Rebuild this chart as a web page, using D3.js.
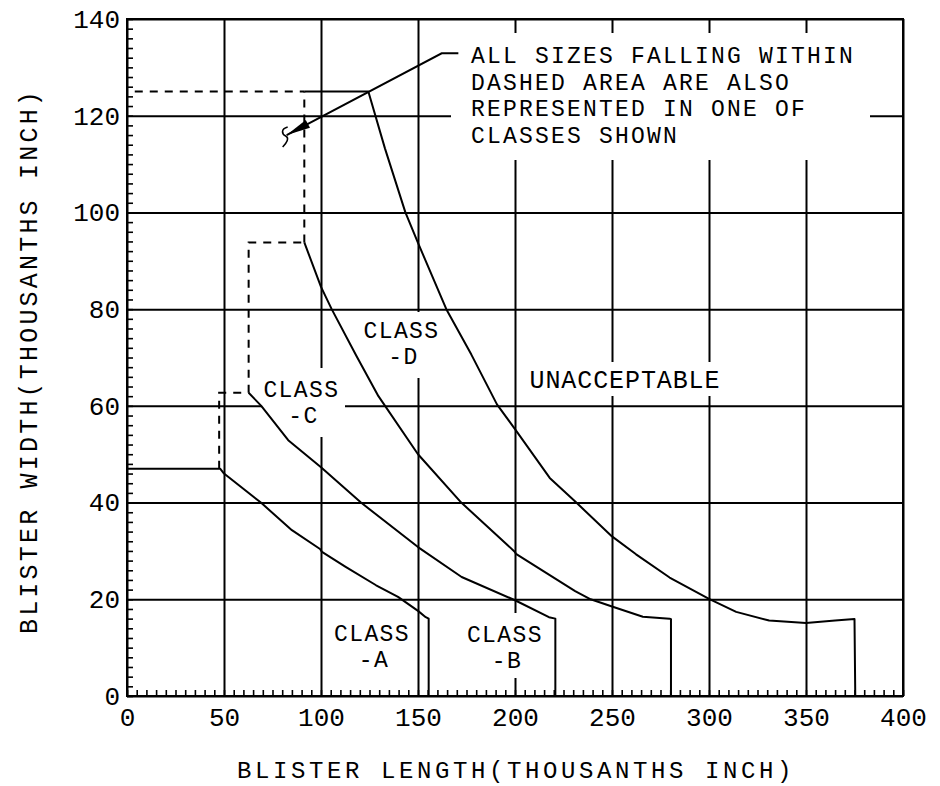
<!DOCTYPE html>
<html>
<head>
<meta charset="utf-8">
<script src="https://cdnjs.cloudflare.com/ajax/libs/d3/7.8.5/d3.min.js"></script>
<style>
  html, body { margin: 0; padding: 0; background: #fff; }
  svg { display: block; }
  text { font-family: "Liberation Mono", "DejaVu Sans Mono", monospace; fill: #000; }
</style>
</head>
<body>
<svg id="chart" width="940" height="786"></svg>
<script>
// ---------- data (thousandths of an inch) ----------
const xTickValues = [0, 50, 100, 150, 200, 250, 300, 350, 400];
const xTickLabels = ["0", "50", "100", "150", "200", "250", "300", "350", "400"];
const yTickValues = [0, 20, 40, 60, 80, 100, 120, 140];
const yTickLabels = ["0", "20", "40", "60", "80", "100", "120", "140"];

// boundary of class A (below it: CLASS-A)
const boundaryA = [[0,47],[48,47],[50,46],[69,40],[85,34.3],[99.5,30.4],[100.5,29.8],[112.7,26.7],[128.4,22.9],[139.7,20.5],[150,17.6],[154,16.3],[155.5,16],[155.5,0]];
// boundary of class B
const boundaryB = [[62.7,62.7],[69.2,60],[83.1,52.9],[100,47.3],[120.6,40],[150,30.8],[172.5,24.6],[200,19.8],[217.5,16.3],[220.8,16],[220.8,0]];
// boundary of class C
const boundaryC = [[91.4,93.8],[100,84.6],[105.5,80],[118,70.5],[129.6,62],[150,50],[172.3,40],[199.7,29.9],[200.5,29.4],[231,21.7],[239,20],[250,18.5],[265.9,16.4],[279.7,16],[280.4,15.9],[280.4,0]];
// boundary of class D (beyond: unacceptable)
const boundaryD = [[91.4,125],[124.4,125],[133,113.2],[143.5,100],[150,93.7],[164.6,80],[177.5,70.6],[190.7,60.3],[200,55.2],[217.9,45.1],[231.6,40],[250,33],[262.4,29.3],[279.7,24.5],[300,20.1],[314,17.4],[331,15.6],[350,15.1],[365,15.6],[375,15.9],[375.4,0]];

// dashed extensions ("dashed area")
const dashedAB = [[47.5,47],[47.5,62.7],[62.7,62.7]];
const dashedBC = [[62.7,62.7],[62.7,93.8],[91.4,93.8]];
const dashedCD = [[91.4,93.8],[91.4,125]];
const dashedTop = [[4,125],[91.4,125]];

const classLabels = [
  {l1:"CLASS", l2:"-A", x:126.3, y:11.4},
  {l1:"CLASS", l2:"-B", x:194.8, y:11.2},
  {l1:"CLASS", l2:"-C", x:89.9,  y:61.9},
  {l1:"CLASS", l2:"-D", x:141.5, y:74.1}
];
const unacceptableLabel = {t:"UNACCEPTABLE", x:256.7, y:63.6};

const noteLines = ["ALL SIZES FALLING WITHIN", "DASHED AREA ARE ALSO", "REPRESENTED IN ONE OF", "CLASSES SHOWN"];
const noteLeader = [[82.3,116.0],[162.2,132.9],[170.8,132.9]]; // arrow tip, bend, end

// ---------- layout ----------
const svg = d3.select("#chart");
const L = 127, R = 903, T = 19, B = 696;
const x = d3.scaleLinear().domain([0, 400]).range([L, R]);
const y = d3.scaleLinear().domain([0, 140]).range([B, T]);
const line = d3.line().x(d => x(d[0])).y(d => y(d[1]));

// grid via axes
const gx = svg.append("g").attr("transform", `translate(0,${B})`)
  .call(d3.axisBottom(x).tickValues(xTickValues).tickSize(-(B - T)).tickFormat(""));
const gy = svg.append("g").attr("transform", `translate(${L},0)`)
  .call(d3.axisLeft(y).tickValues(yTickValues).tickSize(-(R - L)).tickFormat(""));
[gx, gy].forEach(g => {
  g.select(".domain").remove();
  g.selectAll(".tick line").attr("stroke", "#000").attr("stroke-width", 2);
});

// knock-outs where the gridlines are interrupted by lettering
const knockouts = [
  [451, 33, 870, 160],
  [352, 312, 450, 378],
  [520, 362, 730, 396],
  [262, 368, 345, 437],
  [460, 613, 552, 678]
];
svg.append("g").selectAll("rect").data(knockouts).join("rect")
  .attr("x", d => d[0]).attr("y", d => d[1])
  .attr("width", d => d[2] - d[0]).attr("height", d => d[3] - d[1])
  .attr("fill", "#fff");

// frame
svg.append("rect").attr("x", L).attr("y", T).attr("width", R - L).attr("height", B - T)
  .attr("fill", "none").attr("stroke", "#000").attr("stroke-width", 2);

// minor ticks (inside)
const mx = svg.append("g").attr("transform", `translate(0,${B})`)
  .call(d3.axisBottom(x).tickValues(d3.range(0, 401, 5)).tickSize(-6).tickFormat(""));
const my = svg.append("g").attr("transform", `translate(${L},0)`)
  .call(d3.axisLeft(y).tickValues(d3.range(0, 141, 2)).tickSize(-6).tickFormat(""));
[mx, my].forEach(g => {
  g.select(".domain").remove();
  g.selectAll(".tick line").attr("stroke", "#000").attr("stroke-width", 1.6);
});

// tick labels
const lx = svg.append("g").attr("transform", `translate(0,${B})`)
  .call(d3.axisBottom(x).tickValues(xTickValues).tickSize(0).tickPadding(12)
        .tickFormat((d, i) => xTickLabels[i]));
const ly = svg.append("g").attr("transform", `translate(${L},0)`)
  .call(d3.axisLeft(y).tickValues(yTickValues).tickSize(0).tickPadding(7)
        .tickFormat((d, i) => yTickLabels[i]));
[lx, ly].forEach(g => {
  g.select(".domain").remove();
  g.selectAll("text").attr("font-family", "Liberation Mono, monospace")
    .attr("font-size", 26).attr("fill", "#000");
});

// boundaries
const solid = svg.append("g").attr("fill", "none").attr("stroke", "#000")
  .attr("stroke-width", 2).attr("stroke-linejoin", "round");
[boundaryA, boundaryB, boundaryC, boundaryD].forEach(b => solid.append("path").attr("d", line(b)));
const dashed = svg.append("g").attr("fill", "none").attr("stroke", "#000")
  .attr("stroke-width", 2).attr("stroke-dasharray", "8,7");
[dashedAB, dashedBC, dashedCD, dashedTop].forEach(b => dashed.append("path").attr("d", line(b)));

// annotation leader with arrow
const tip = [x(noteLeader[0][0]), y(noteLeader[0][1])];
const bend = [x(noteLeader[1][0]), y(noteLeader[1][1])];
svg.append("path").attr("d", line(noteLeader)).attr("fill", "none")
  .attr("stroke", "#000").attr("stroke-width", 2);
{
  const dx = bend[0] - tip[0], dy = bend[1] - tip[1];
  const len = Math.hypot(dx, dy), ux = dx / len, uy = dy / len;
  const hl = 24, hw = 4.5;
  const bx = tip[0] + ux * hl, by = tip[1] + uy * hl;
  svg.append("path")
    .attr("d", `M${tip[0]},${tip[1]}L${bx - uy * hw},${by + ux * hw}L${bx + uy * hw},${by - ux * hw}Z`)
    .attr("fill", "#000");
  const sx = tip[0] - 2, sy = tip[1];
  svg.append("path")
    .attr("d", `M${sx + 3},${sy - 8} C${sx - 4},${sy - 6} ${sx - 3},${sy - 1} ${sx + 1},${sy + 1} S${sx + 2},${sy + 8} ${sx - 2},${sy + 12}`)
    .attr("fill", "none").attr("stroke", "#000").attr("stroke-width", 1.6);
}

// annotation text
const note = svg.append("text").attr("font-size", 23).attr("letter-spacing", 2.2);
note.selectAll("tspan").data(noteLines).join("tspan")
  .attr("x", 471).attr("y", (d, i) => 63 + i * 26.7)
  .text(d => d);

// class labels (two lines each)
const cl = svg.append("g").selectAll("text").data(classLabels).join("text")
  .attr("text-anchor", "middle").attr("font-size", 23).attr("letter-spacing", 1.4);
cl.append("tspan").attr("x", d => x(d.x)).attr("y", d => y(d.y)).text(d => d.l1);
cl.append("tspan").attr("x", d => x(d.x) + 2).attr("dy", 26.5).text(d => d.l2);
svg.append("text").attr("x", x(unacceptableLabel.x)).attr("y", y(unacceptableLabel.y))
  .attr("text-anchor", "middle").attr("font-size", 25).attr("letter-spacing", 0.9)
  .text(unacceptableLabel.t);

// axis titles
svg.append("text").attr("x", 516).attr("y", 778).attr("text-anchor", "middle")
  .attr("font-size", 24).attr("letter-spacing", 3.6)
  .text("BLISTER LENGTH(THOUSANTHS INCH)");
svg.append("text").attr("transform", "translate(37,361) rotate(-90)").attr("text-anchor", "middle")
  .attr("font-size", 25).attr("letter-spacing", 3.2)
  .text("BLISTER WIDTH(THOUSANTHS INCH)");
</script>
</body>
</html>
